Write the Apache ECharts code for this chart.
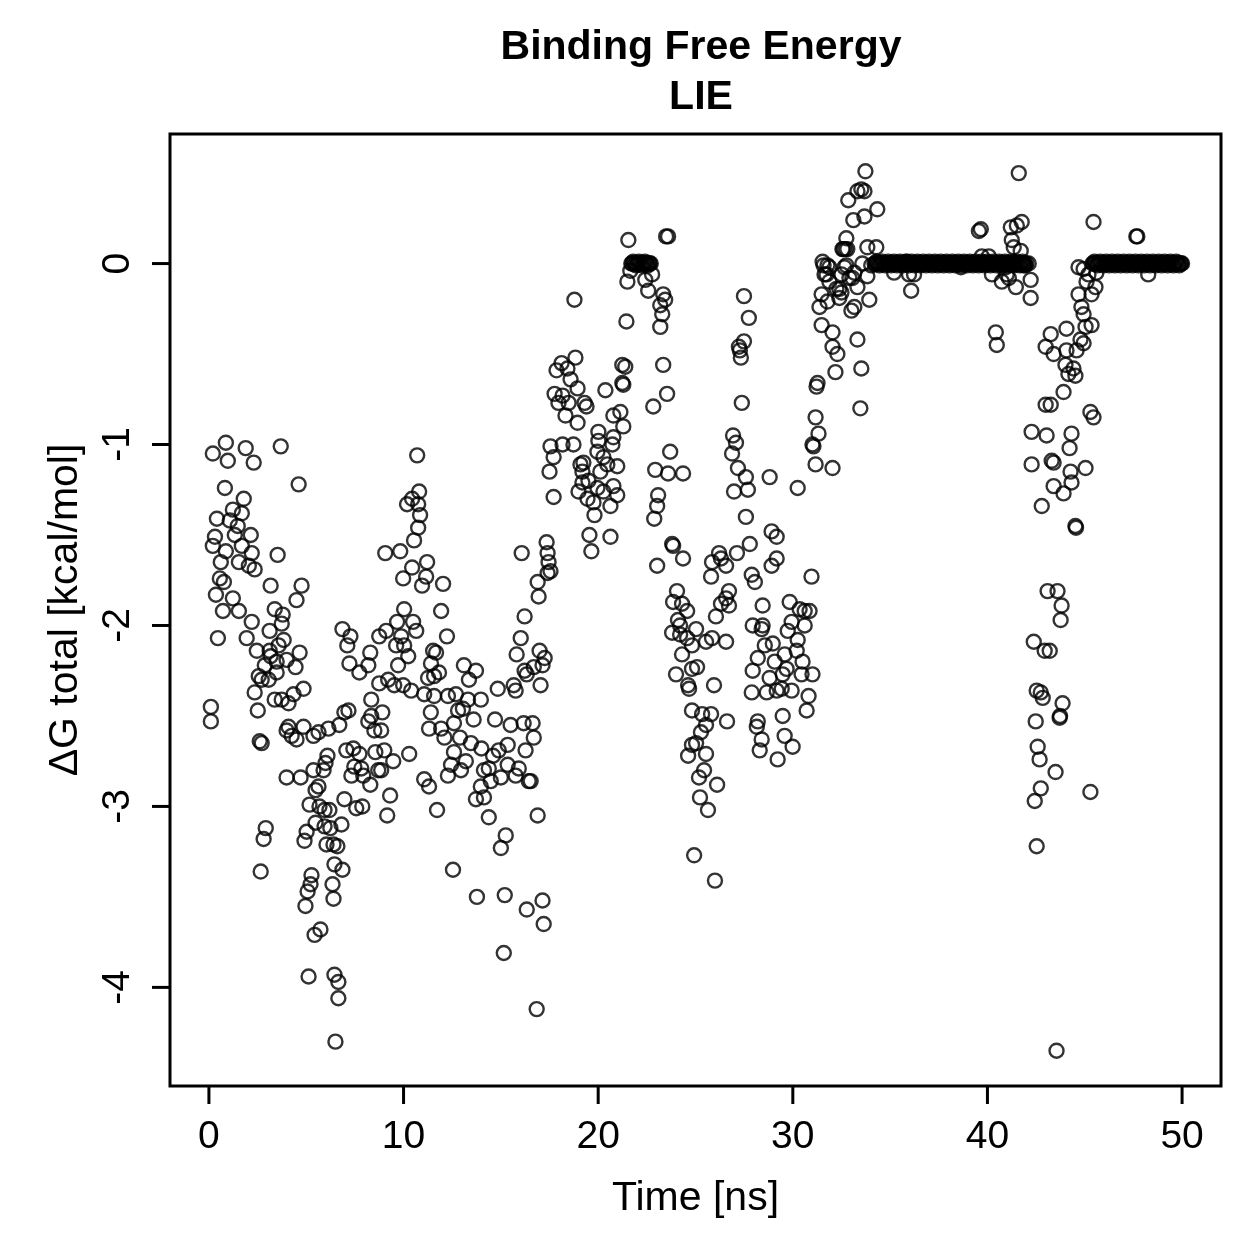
<!DOCTYPE html>
<html>
<head>
<meta charset="utf-8">
<title>Binding Free Energy LIE</title>
<script src="https://cdn.jsdelivr.net/npm/echarts@6/dist/echarts.min.js"></script>
<style>
  html, body { margin: 0; padding: 0; background: #fff; }
  #chart { width: 1259px; height: 1259px; }
</style>
</head>
<body>
<div id="chart"></div>
<script>
// time [ns], dG total [kcal/mol]
var early = [
  [0.10,-2.45],[0.10,-2.53],[0.20,-1.05],[0.20,-1.56],[0.31,-1.51],[0.36,-1.83],[0.41,-1.41],[0.46,-2.07],
  [0.56,-1.74],[0.61,-1.65],[0.72,-1.92],[0.77,-1.76],[0.82,-1.24],[0.87,-0.99],[0.87,-1.59],[0.97,-1.09],
  [1.07,-1.42],[1.23,-1.36],[1.23,-1.85],[1.33,-1.50],[1.48,-1.45],[1.54,-1.65],[1.54,-1.92],[1.69,-1.38],
  [1.69,-1.56],[1.79,-1.30],[1.89,-1.02],[1.94,-2.07],[2.05,-1.67],[2.15,-1.50],[2.20,-1.60],[2.20,-1.98],
  [2.30,-1.10],[2.35,-1.69],[2.35,-2.37],[2.46,-2.14],[2.51,-2.47],[2.56,-2.28],[2.61,-2.64],[2.66,-3.36],
  [2.71,-2.30],[2.71,-2.65],[2.81,-3.18],[2.87,-2.22],[2.92,-3.12],[3.07,-2.30],[3.12,-2.03],[3.12,-2.14],
  [3.17,-1.78],[3.17,-2.17],[3.38,-1.91],[3.38,-2.41],[3.48,-2.20],[3.48,-2.26],[3.53,-1.61],[3.58,-2.11],
  [3.69,-1.01],[3.74,-1.99],[3.74,-2.41],[3.79,-1.94],[3.84,-2.08],[3.99,-2.19],[3.99,-2.58],[3.99,-2.84],
  [4.09,-2.43],[4.09,-2.56],[4.25,-2.61],[4.35,-2.38],[4.45,-2.23],[4.50,-1.86],[4.50,-2.63],[4.61,-1.22],
  [4.66,-2.15],[4.71,-2.84],[4.76,-1.78],[4.86,-2.35],[4.86,-2.56],[4.91,-3.19],[4.96,-3.55],[5.02,-3.14],
  [5.07,-3.47],[5.12,-3.94],[5.17,-2.99],[5.22,-3.43],[5.27,-3.38],[5.37,-2.61],[5.37,-2.80],[5.43,-3.71],
  [5.48,-2.91],[5.48,-3.09],[5.63,-2.59],[5.63,-2.89],[5.68,-3.00],[5.73,-3.68],[5.89,-2.80],[5.94,-3.02],
  [5.94,-3.11],[5.99,-2.76],[6.04,-3.21],[6.09,-2.72],[6.14,-2.57],[6.19,-3.02],[6.24,-3.12],[6.35,-3.43],
  [6.40,-3.21],[6.40,-3.51],[6.45,-3.32],[6.45,-3.93],[6.50,-4.30],[6.60,-3.22],[6.65,-3.97],[6.65,-4.06],
  [6.70,-2.55],[6.81,-3.10],[6.86,-3.35],[6.86,-2.02],[6.96,-2.48],[6.96,-2.96],[7.06,-2.69],[7.11,-2.11],
  [7.17,-2.47],[7.22,-2.21],[7.27,-2.06],[7.32,-2.83],[7.42,-2.68],[7.47,-2.78],[7.57,-3.01],[7.73,-2.26],
  [7.73,-2.71],[7.83,-2.79],[7.88,-3.00],[7.93,-2.83],[8.19,-2.22],[8.19,-2.53],[8.29,-2.15],[8.29,-2.88],
  [8.34,-2.41],[8.34,-2.50],[8.50,-2.58],[8.55,-2.70],[8.70,-2.80],[8.75,-2.32],[8.75,-2.06],[8.85,-2.58],
  [8.85,-2.80],[8.91,-2.48],[9.01,-2.69],[9.06,-1.60],[9.11,-2.03],[9.16,-3.05],[9.21,-2.30],[9.31,-2.94],
  [9.47,-2.75],[9.52,-2.33],[9.62,-2.11],[9.67,-1.98],[9.72,-2.22],[9.83,-1.59],[9.88,-2.06],[9.98,-1.74],
  [9.98,-2.33],[10.03,-1.91],[10.03,-2.11],[10.18,-1.33],[10.24,-2.17],[10.29,-2.71],[10.39,-2.36],[10.44,-1.30],
  [10.44,-1.68],[10.49,-1.98],[10.54,-1.53],[10.65,-2.03],[10.70,-1.06],[10.75,-1.33],[10.75,-1.46],[10.80,-1.26],
  [10.85,-1.39],[10.95,-1.78],[11.06,-2.38],[11.06,-2.85],[11.16,-1.73],[11.21,-1.65],[11.26,-2.29],[11.31,-2.57],
  [11.31,-2.89],[11.41,-2.21],[11.40,-2.48],[11.52,-2.14],[11.57,-2.28],[11.57,-2.39],[11.67,-2.15],[11.72,-3.02],
  [11.82,-2.26],[11.93,-1.92],[11.93,-2.57],[12.03,-1.77],[12.10,-2.62],[12.23,-2.06],[12.28,-2.39],[12.28,-2.83],
  [12.44,-2.77],[12.54,-3.35],[12.59,-2.54],[12.59,-2.70],[12.69,-2.38],[12.80,-2.47],[12.90,-2.62],[12.95,-2.80],
  [13.05,-2.46],[13.10,-2.22],[13.20,-2.75],[13.31,-2.41],[13.36,-2.30],[13.46,-2.65],[13.60,-2.52],[13.72,-2.25],
  [13.72,-2.96],[13.77,-3.50],[13.97,-2.41],[13.97,-2.89],[14.00,-2.68],[14.13,-2.80],[14.13,-2.95],[14.38,-2.79],
  [14.38,-3.06],[14.48,-2.86],[14.60,-2.72],[14.70,-2.52],[14.84,-2.35],[14.89,-2.69],[15.00,-2.84],[15.00,-3.23],
  [15.15,-3.81],[15.20,-3.49],[15.25,-3.16],[15.35,-2.66],[15.35,-2.77],[15.50,-2.55],[15.66,-2.33],[15.76,-2.36],
  [15.76,-2.83],[15.81,-2.16],[15.92,-2.79],[16.02,-2.07],[16.07,-1.60],[16.17,-2.54],[16.22,-1.95],[16.22,-2.25],
  [16.27,-2.69],[16.33,-2.27],[16.33,-3.57],[16.43,-2.86],[16.53,-2.86]
];

var middle = [
  [16.63,-2.54],[16.69,-2.62],[16.69,-2.23],[16.84,-4.12],[16.89,-1.76],[16.89,-3.05],[16.94,-1.84],[16.99,-2.14],
  [17.04,-2.33],[17.14,-2.22],[17.14,-3.52],[17.20,-3.65],[17.25,-2.18],[17.35,-1.54],[17.40,-1.60],[17.40,-1.71],
  [17.45,-1.65],[17.50,-1.15],[17.55,-1.01],[17.55,-1.70],[17.71,-1.07],[17.71,-1.29],[17.76,-0.72],[17.86,-0.59],
  [17.96,-0.77],[18.12,-0.55],[18.17,-0.73],[18.17,-1.00],[18.32,-0.84],[18.42,-0.58],[18.48,-0.77],[18.58,-0.64],
  [18.73,-1.00],[18.78,-0.20],[18.83,-0.52],[18.94,-0.69],[18.94,-0.88],[18.99,-1.26],[19.09,-1.11],[19.19,-1.15],
  [19.19,-1.21],[19.24,-1.10],[19.30,-0.77],[19.40,-0.79],[19.45,-1.30],[19.50,-1.20],[19.55,-1.50],[19.65,-1.59],
  [19.76,-1.32],[19.81,-1.39],[19.96,-1.04],[19.96,-1.24],[20.01,-0.93],[20.01,-0.98],[20.11,-1.15],[20.27,-1.07],
  [20.27,-1.26],[20.37,-0.70],[20.47,-1.11],[20.63,-1.34],[20.63,-1.51],[20.73,-1.00],[20.78,-0.84],[20.78,-0.96],
  [20.78,-1.23],[20.98,-1.12],[20.98,-1.28],[21.14,-0.82],[21.24,-0.56],[21.24,-0.66],[21.29,-0.67],[21.29,-0.90],
  [21.39,-0.57],[21.45,-0.32],[21.50,-0.10],[21.55,0.13],[21.65,-0.04],
  [22.42,-0.09],[22.57,-0.15],[22.77,-0.06],[22.83,-0.79],[22.88,-1.41],[22.93,-1.14],[23.03,-1.34],[23.03,-1.67],
  [23.08,-1.28],[23.19,-0.23],[23.19,-0.35],[23.29,-0.28],[23.34,-0.17],[23.34,-0.56],[23.44,-0.20],[23.49,0.15],
  [23.59,0.15],[23.59,-1.16],[23.54,-0.72],[23.70,-1.04],[23.80,-1.55],[23.85,-1.56],[23.80,-2.04],[23.85,-1.87],
  [24.00,-2.27],[24.05,-1.81],[24.10,-1.97],[24.21,-2.00],[24.21,-2.05],[24.31,-1.88],[24.31,-2.16],[24.36,-1.16],
  [24.36,-1.63],[24.57,-1.92],[24.57,-2.07],[24.62,-2.33],[24.62,-2.72],[24.67,-2.35],[24.82,-2.11],[24.82,-2.24],
  [24.82,-2.47],[24.82,-2.66],[24.93,-3.27],[25.03,-2.02],[25.03,-2.65],[25.08,-2.23],[25.18,-2.84],[25.23,-2.95],
  [25.28,-2.59],[25.34,-2.49],[25.44,-2.80],[25.54,-2.09],[25.54,-2.55],[25.54,-2.71],[25.64,-3.02],[25.80,-1.73],
  [25.80,-2.49],[25.85,-1.65],[25.85,-2.07],[25.95,-2.33],[26.00,-3.41],[26.05,-1.95],[26.11,-2.88],[26.21,-1.60],
  [26.31,-1.63],[26.31,-1.88],[26.57,-1.67],[26.57,-1.85],[26.57,-2.09],[26.62,-2.53],[26.72,-1.81],[26.72,-1.89],
  [26.88,-1.05],[26.93,-0.95],[26.98,-1.26],[27.08,-0.99],[27.13,-1.60],[27.18,-1.13],[27.23,-0.46],[27.28,-0.48],
  [27.33,-0.52],[27.38,-0.77],[27.49,-0.18],[27.49,-0.43],[27.59,-1.18],[27.59,-1.40],[27.69,-1.25],[27.74,-0.30],
  [27.79,-1.55],[27.89,-1.72],[27.89,-2.37],[27.94,-2.00],[27.94,-2.25],[28.05,-1.76],[28.15,-2.56],[28.20,-2.18],
  [28.20,-2.53],[28.30,-2.69],[28.40,-2.02],[28.40,-2.63],[28.45,-1.89],[28.45,-2.00],[28.56,-2.11],[28.66,-2.37],
  [28.81,-1.18],[28.81,-2.29],[28.91,-1.48],[28.91,-1.67],[28.97,-2.10],[29.07,-2.20],[29.17,-1.51],[29.17,-1.63],
  [29.17,-2.36],[29.22,-2.74],[29.43,-2.35],[29.48,-2.27],[29.48,-2.50],[29.58,-2.16],[29.58,-2.61],[29.68,-2.24],
  [29.74,-2.03],[29.84,-1.87],[29.94,-1.98],[29.94,-2.36],[29.99,-2.67],[30.20,-2.14],[30.25,-1.24],[30.25,-2.08],
  [30.35,-1.91],[30.45,-2.27],[30.50,-2.20],[30.61,-1.92],[30.61,-2.00],[30.71,-2.47],[30.81,-2.39],[30.86,-1.92],
  [30.96,-1.73],[31.01,-2.27],[31.01,-1.00],[31.06,-1.01],[31.17,-0.85],[31.17,-1.11],[31.22,-0.68],[31.27,-0.66],
  [31.32,-0.94],[31.37,-0.24],[31.48,-0.17],[31.48,-0.34],[31.53,0.01],[31.58,-0.01],[31.63,-0.06],[31.73,-0.06],
  [31.78,-0.01],[31.78,-0.21],[31.88,-0.02],[31.88,-0.10],[32.04,-0.38],[32.04,-0.46],[32.04,-1.13],[32.19,-0.60],
  [32.24,-0.14],[32.29,-0.50],[32.39,-0.14],[32.39,-0.19],[32.50,-0.06],[32.50,-0.16],[32.55,0.08],[32.60,0.08],
  [32.65,-0.02],[32.70,0.08],[32.75,0.14],[32.75,-0.01],[32.80,0.08],[32.85,0.35],[32.91,-0.08],[33.01,-0.26],
  [33.06,-0.08],[33.11,0.24],[33.16,-0.05],[33.16,-0.24],[33.32,0.40],[33.32,-0.13],[33.32,-0.42],[33.52,-0.58],
  [33.47,-0.80],[33.52,0.41],[33.57,0.00],[33.68,0.40],[33.68,0.26],[33.73,0.51],[33.83,0.09],[33.83,-0.07],
  [33.93,-0.20],[34.03,-0.01],[34.29,0.09],[34.34,0.30]
];

// short plateau near 22 ns
var plateauA = [
  [21.70,0.00],[21.75,0.00],[21.80,0.01],[21.85,0.00],[21.90,0.00],[21.95,-0.01],
  [22.00,0.00],[22.05,0.00],[22.10,0.01],[22.15,0.00],[22.20,0.00],[22.25,-0.01],
  [22.30,0.00],[22.35,0.00],[22.40,0.01],[22.45,0.00],[22.50,0.00],[22.55,-0.01],
  [22.60,0.00],[22.65,0.00],[22.70,0.00]
];

// long plateau 34-42 ns
var plateauB = [
  [34.20,0.00],[34.25,0.00],[34.30,0.01],[34.35,0.00],[34.40,0.00],[34.45,-0.01],
  [34.50,0.00],[34.55,0.00],[34.60,0.01],[34.65,0.00],[34.70,0.00],[34.75,-0.01],
  [34.80,0.00],[34.85,0.00],[34.90,0.01],[34.95,0.00],[35.00,0.00],[35.05,-0.01],
  [35.10,0.00],[35.15,0.00],[35.20,0.01],[35.25,0.00],[35.30,0.00],[35.35,-0.01],
  [35.40,0.00],[35.45,0.00],[35.50,0.01],[35.55,0.00],[35.60,0.00],[35.65,-0.01],
  [35.70,0.00],[35.75,0.00],[35.80,0.01],[35.85,0.00],[35.90,0.00],[35.95,-0.01],
  [36.00,0.00],[36.05,0.00],[36.10,0.01],[36.15,0.00],[36.20,0.00],[36.25,-0.01],
  [36.30,0.00],[36.35,0.00],[36.40,0.01],[36.45,0.00],[36.50,0.00],[36.55,-0.01],
  [36.60,0.00],[36.65,0.00],[36.70,0.01],[36.75,0.00],[36.80,0.00],[36.85,-0.01],
  [36.90,0.00],[36.95,0.00],[37.00,0.01],[37.05,0.00],[37.10,0.00],[37.15,-0.01],
  [37.20,0.00],[37.25,0.00],[37.30,0.01],[37.35,0.00],[37.40,0.00],[37.45,-0.01],
  [37.50,0.00],[37.55,0.00],[37.60,0.01],[37.65,0.00],[37.70,0.00],[37.75,-0.01],
  [37.80,0.00],[37.85,0.00],[37.90,0.01],[37.95,0.00],[38.00,0.00],[38.05,-0.01],
  [38.10,0.00],[38.15,0.00],[38.20,0.01],[38.25,0.00],[38.30,0.00],[38.35,-0.01],
  [38.40,0.00],[38.45,0.00],[38.50,0.01],[38.55,0.00],[38.60,0.00],[38.65,-0.01],
  [38.70,0.00],[38.75,0.00],[38.80,0.01],[38.85,0.00],[38.90,0.00],[38.95,-0.01],
  [39.00,0.00],[39.05,0.00],[39.10,0.01],[39.15,0.00],[39.20,0.00],[39.25,-0.01],
  [39.30,0.00],[39.35,0.00],[39.40,0.01],[39.45,0.00],[39.50,0.00],[39.55,-0.01],
  [39.60,0.00],[39.65,0.00],[39.70,0.01],[39.75,0.00],[39.80,0.00],[39.85,-0.01],
  [39.90,0.00],[39.95,0.00],[40.00,0.01],[40.05,0.00],[40.10,0.00],[40.15,-0.01],
  [40.20,0.00],[40.25,0.00],[40.30,0.01],[40.35,0.00],[40.40,0.00],[40.45,-0.01],
  [40.50,0.00],[40.55,0.00],[40.60,0.01],[40.65,0.00],[40.70,0.00],[40.75,-0.01],
  [40.80,0.00],[40.85,0.00],[40.90,0.01],[40.95,0.00],[41.00,0.00],[41.05,-0.01],
  [41.10,0.00],[41.15,0.00],[41.20,0.01],[41.25,0.00],[41.30,0.00],[41.35,-0.01],
  [41.40,0.00],[41.45,0.00],[41.50,0.01],[41.55,0.00],[41.60,0.00],[41.65,-0.01],
  [41.70,0.00],[41.75,0.00],[41.80,0.01],[41.85,0.00],[41.90,0.00],[41.95,-0.01],
  [42.00,0.00]
];

var late = [
  [35.20,-0.05],[35.87,0.01],[35.97,-0.06],[36.08,-0.15],[36.23,-0.06],[38.64,-0.02],[39.56,0.18],[39.66,0.19],
  [39.71,0.04],[40.07,0.04],[40.23,-0.06],[40.43,-0.38],[40.48,-0.45],[40.74,-0.10],[40.94,-0.02],[40.99,-0.06],
  [41.10,-0.08],[41.20,0.20],[41.25,0.13],[41.35,0.09],[41.46,-0.13],[41.51,0.21],[41.61,0.50],[41.71,0.07],
  [41.76,0.23],[41.86,-0.01],[42.12,0.00],[42.22,-0.09],[42.22,-0.19],
  [42.27,-0.93],[42.27,-1.11],[42.38,-2.09],[42.43,-2.97],[42.48,-2.53],[42.53,-2.36],[42.53,-3.22],[42.58,-2.67],
  [42.68,-2.74],[42.74,-2.37],[42.74,-2.90],[42.79,-1.34],[42.84,-2.40],[42.94,-2.14],[42.99,-0.46],[42.99,-0.78],
  [43.04,-0.95],[43.09,-1.81],[43.20,-2.14],[43.25,-0.39],[43.25,-0.78],[43.30,-1.09],[43.40,-0.50],[43.40,-1.10],
  [43.40,-1.23],[43.50,-2.81],[43.55,-4.35],[43.60,-1.81],[43.71,-2.51],[43.73,-2.50],[43.76,-1.97],[43.81,-1.89],
  [43.86,-2.43],[43.91,-0.71],[43.91,-1.27],[44.01,-0.56],[44.06,-0.36],[44.06,-0.48],[44.16,-0.61],[44.22,-1.02],
  [44.27,-1.15],[44.32,-0.94],[44.32,-1.21],[44.42,-0.58],[44.52,-0.62],[44.52,-1.45],[44.55,-1.46],[44.58,-0.48],
  [44.68,-0.02],[44.68,-0.17],[44.78,-0.42],[44.83,-0.24],[44.94,-0.03],[44.94,-0.28],[44.94,-0.44],[45.04,-0.35],
  [45.04,-1.13],[45.09,-0.10],[45.19,-0.06],[45.29,-0.82],[45.29,-2.92],[45.35,-0.17],[45.35,-0.34],[45.45,0.23],
  [45.45,-0.85],[45.55,-0.13],[45.60,-0.05],
  [47.65,0.15],[47.70,0.15],[48.26,-0.06]
];

// final plateau 45.4-50 ns
var plateauC = [
  [45.40,0.00],[45.45,0.00],[45.50,0.01],[45.55,0.00],[45.60,0.00],[45.65,-0.01],
  [45.70,0.00],[45.75,0.00],[45.80,0.01],[45.85,0.00],[45.90,0.00],[45.95,-0.01],
  [46.00,0.00],[46.05,0.00],[46.10,0.01],[46.15,0.00],[46.20,0.00],[46.25,-0.01],
  [46.30,0.00],[46.35,0.00],[46.40,0.01],[46.45,0.00],[46.50,0.00],[46.55,-0.01],
  [46.60,0.00],[46.65,0.00],[46.70,0.01],[46.75,0.00],[46.80,0.00],[46.85,-0.01],
  [46.90,0.00],[46.95,0.00],[47.00,0.01],[47.05,0.00],[47.10,0.00],[47.15,-0.01],
  [47.20,0.00],[47.25,0.00],[47.30,0.01],[47.35,0.00],[47.40,0.00],[47.45,-0.01],
  [47.50,0.00],[47.55,0.00],[47.60,0.01],[47.65,0.00],[47.70,0.00],[47.75,-0.01],
  [47.80,0.00],[47.85,0.00],[47.90,0.01],[47.95,0.00],[48.00,0.00],[48.05,-0.01],
  [48.10,0.00],[48.15,0.00],[48.20,0.01],[48.25,0.00],[48.30,0.00],[48.35,-0.01],
  [48.40,0.00],[48.45,0.00],[48.50,0.01],[48.55,0.00],[48.60,0.00],[48.65,-0.01],
  [48.70,0.00],[48.75,0.00],[48.80,0.01],[48.85,0.00],[48.90,0.00],[48.95,-0.01],
  [49.00,0.00],[49.05,0.00],[49.10,0.01],[49.15,0.00],[49.20,0.00],[49.25,-0.01],
  [49.30,0.00],[49.35,0.00],[49.40,0.01],[49.45,0.00],[49.50,0.00],[49.55,-0.01],
  [49.60,0.00],[49.65,0.00],[49.70,0.01],[49.75,0.00],[49.80,0.00],[49.85,-0.01],
  [49.90,0.00],[49.95,0.00],[50.00,0.00]
];

var xTicks = [0, 10, 20, 30, 40, 50];
var yTicks = [-4, -3, -2, -1, 0];

var xMin = -2, xMax = 52;
var yMin = -4.545, yMax = 0.716;

var points = early.concat(middle, plateauA, plateauB, late, plateauC);

var myChart = echarts.init(document.getElementById('chart'));

var font = 'Liberation Sans, Arial, Helvetica, sans-serif';
var TICK_LEN = 18;

var option = {
  animation: false,
  title: {
    text: 'Binding Free Energy\nLIE',
    left: 696,
    top: 18,
    textAlign: 'center',
    textStyle: {
      fontFamily: font,
      fontSize: 41,
      fontWeight: 'bold',
      color: '#000',
      lineHeight: 50
    }
  },
  grid: {
    left: 170,
    top: 134,
    width: 1051,
    height: 952,
    show: true,
    borderColor: '#000',
    borderWidth: 3,
    backgroundColor: 'transparent'
  },
  xAxis: {
    type: 'value',
    min: xMin,
    max: xMax,
    name: 'Time [ns]',
    nameLocation: 'middle',
    nameGap: 92,
    nameTextStyle: { fontFamily: font, fontSize: 41, color: '#000' },
    axisLine: { show: false, onZero: false },
    splitLine: { show: false },
    axisTick: { show: false },
    axisLabel: {
      customValues: xTicks,
      margin: 32,
      fontFamily: font,
      fontSize: 39,
      color: '#000'
    }
  },
  yAxis: {
    type: 'value',
    min: yMin,
    max: yMax,
    name: 'ΔG total [kcal/mol]',
    nameLocation: 'middle',
    nameGap: 84,
    nameRotate: 90,
    nameTextStyle: { fontFamily: font, fontSize: 41, color: '#000' },
    axisLine: { show: false, onZero: false },
    splitLine: { show: false },
    axisTick: { show: false },
    axisLabel: {
      customValues: yTicks,
      rotate: 90,
      margin: 32,
      fontFamily: font,
      fontSize: 39,
      color: '#000'
    }
  },
  series: [
    {
      type: 'scatter',
      data: points,
      symbol: 'circle',
      symbolSize: 14,
      itemStyle: {
        color: 'rgba(0,0,0,0)',
        borderColor: '#000',
        borderWidth: 2.4
      },
      emphasis: { disabled: true },
      large: false
    },
    // outward tick marks on the bottom edge, one thin bar per tick value
    {
      type: 'scatter',
      clip: false,
      silent: true,
      data: xTicks.map(function (t) { return [t, yMin]; }),
      symbol: 'rect',
      symbolSize: [3, TICK_LEN],
      symbolOffset: [0, TICK_LEN / 2],
      itemStyle: { color: '#000', opacity: 1 },
      emphasis: { disabled: true },
      z: 10
    },
    // outward tick marks on the left edge
    {
      type: 'scatter',
      clip: false,
      silent: true,
      data: yTicks.map(function (v) { return [xMin, v]; }),
      symbol: 'rect',
      symbolSize: [TICK_LEN, 3],
      symbolOffset: [-TICK_LEN / 2, 0],
      itemStyle: { color: '#000', opacity: 1 },
      emphasis: { disabled: true },
      z: 10
    }
  ]
};

option && myChart.setOption(option);
</script>
</body>
</html>
